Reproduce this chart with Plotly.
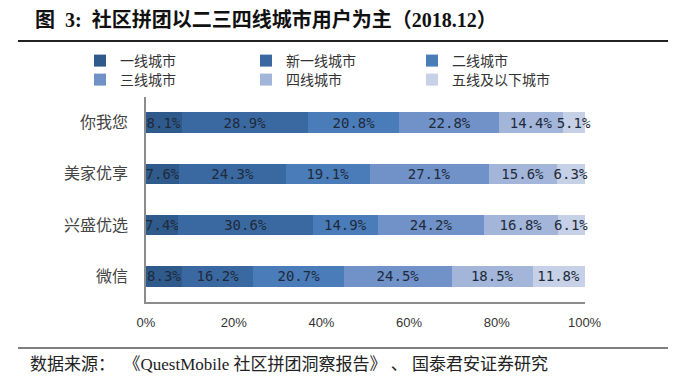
import plotly.graph_objects as go

platforms = ["你我您", "美家优享", "兴盛优选", "微信"]
tiers = ["一线城市", "新一线城市", "二线城市", "三线城市", "四线城市", "五线及以下城市"]
tier1 = [8.1, 7.6, 7.4, 8.3]
new_tier1 = [28.9, 24.3, 30.6, 16.2]
tier2 = [20.8, 19.1, 14.9, 20.7]
tier3 = [22.8, 27.1, 24.2, 24.5]
tier4 = [14.4, 15.6, 16.8, 18.5]
tier5_below = [5.1, 6.3, 6.1, 11.8]
series = [tier1, new_tier1, tier2, tier3, tier4, tier5_below]
x_ticks = [0, 20, 40, 60, 80, 100]

colors = ["#2F5A8C", "#3A69A1", "#4A7CB9", "#7092C8", "#A3B6DA", "#C6D0E6"]

# page has an 8px body margin; work in page coordinates
OFF = 8
PAGE_W, PAGE_H = 698, 376
W, H = PAGE_W - OFF, PAGE_H - OFF
L, R, T, B = 146, 585, 97, 302  # plot area in page pixels

def px_x(x):
    return (x - L) / (R - L)

def px_y(y):
    return (B - y) / (B - T)

CJK = "Noto Sans CJK SC"
fig = go.Figure()
for i, (name, vals, c) in enumerate(zip(tiers, series, colors)):
    fig.add_trace(go.Bar(
        y=platforms, x=vals, name=name, orientation="h",
        marker=dict(color=c, line=dict(width=0)),
        text=[f"{v:.1f}%" for v in vals],
        textposition="inside", insidetextanchor="middle", textangle=0,
        constraintext="none", cliponaxis=False,
        textfont=dict(family="DejaVu Sans Mono, " + CJK, size=14, color="#1E2A3A"),
        hoverinfo="skip",
        legend="legend" if i < 3 else "legend2",
    ))

leg_common = dict(orientation="h", xanchor="left", yanchor="middle",
                  entrywidth=121, entrywidthmode="pixels",
                  font=dict(family=CJK, size=14, color="#333333"),
                  itemwidth=30, tracegroupgap=0, traceorder="normal",
                  bgcolor="rgba(0,0,0,0)", borderwidth=0)

fig.update_layout(
    barmode="stack", bargap=0.6,
    width=W, height=H,
    margin=dict(l=L - OFF, r=W - (R - OFF), t=T - OFF, b=H - (B - OFF), pad=0),
    plot_bgcolor="white", paper_bgcolor="white",
    showlegend=True,
    legend=dict(x=px_x(80), y=px_y(61), **leg_common),
    legend2=dict(x=px_x(80), y=px_y(80), **leg_common),
    font=dict(family=CJK, color="#333333"),
)
fig.update_xaxes(range=[0, 100.1], tickvals=x_ticks, ticktext=[f"{t}%" for t in x_ticks],
                 showgrid=False, zeroline=False, showline=True, linecolor="#8C8C8C", linewidth=1.5,
                 ticks="", ticklabelstandoff=8,
                 tickfont=dict(family="Liberation Sans, Arial", size=13, color="#333333"))
fig.update_yaxes(categoryorder="array", categoryarray=platforms, autorange="reversed",
                 showgrid=False, zeroline=False, showline=True, linecolor="#8C8C8C", linewidth=1.5,
                 ticks="", ticklabelstandoff=13,
                 tickfont=dict(family=CJK, size=16, color="#444444"))

# title
fig.add_annotation(xref="paper", yref="paper", x=px_x(33), y=px_y(19), xanchor="left", yanchor="middle",
                   text="<b>图  3:  社区拼团以二三四线城市用户为主（2018.12）</b>", showarrow=False,
                   font=dict(family="Liberation Serif, " + CJK, size=20, color="#111111"))
fig.add_shape(type="line", xref="paper", yref="paper", x0=px_x(18), x1=px_x(668), y0=px_y(41), y1=px_y(41),
              line=dict(color="#222222", width=2))
fig.add_shape(type="line", xref="paper", yref="paper", x0=px_x(18), x1=px_x(668), y0=px_y(348), y1=px_y(348),
              line=dict(color="#555555", width=1.5))
fig.add_annotation(xref="paper", yref="paper", x=px_x(28), y=px_y(364), xanchor="left", yanchor="middle",
                   text="数据来源：  《QuestMobile 社区拼团洞察报告》 、 国泰君安证券研究", showarrow=False,
                   font=dict(family="Liberation Serif, " + CJK, size=17, color="#222222"))

fig.write_html("out.html")
